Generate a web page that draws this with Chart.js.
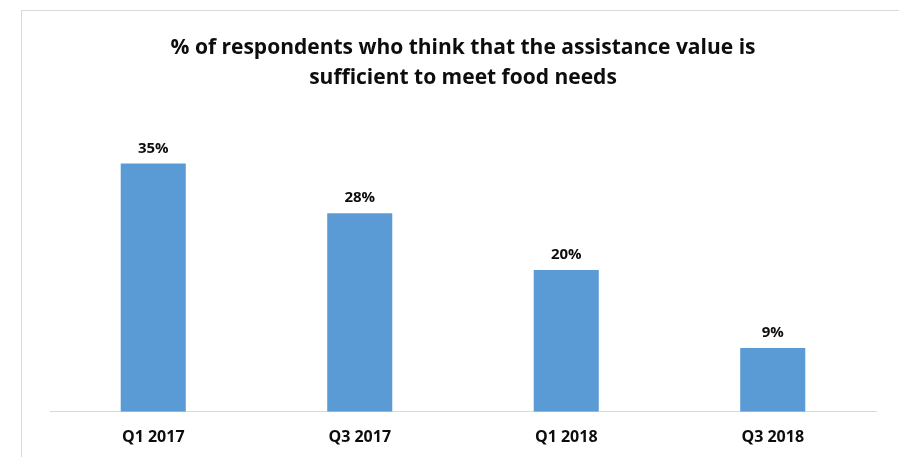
<!DOCTYPE html>
<html>
<head>
<meta charset="utf-8">
<script src="https://cdn.jsdelivr.net/npm/chart.js@4"></script>
<style>
  html, body { margin: 0; padding: 0; background: #fff; overflow: hidden; }
  #frame {
    position: absolute; left: 21px; top: 10px;
    width: 1000px; height: 1000px;
    border: 1px solid #d9d9d9; box-sizing: border-box;
  }
  #wrap { position: absolute; left: 0; top: 0; width: 899px; height: 457px; }
</style>
</head>
<body>
<div id="frame"></div>
<div id="wrap"><canvas id="chart"></canvas></div>
<script>
// Survey results per quarter
const quarters = ['Q1 2017', 'Q3 2017', 'Q1 2018', 'Q3 2018'];
const sufficientPct = [35, 28, 20, 9];
const titleLines = [
  '% of respondents who think that the assistance value is',
  'sufficient to meet food needs'
];

const FONT = "'Open Sans', 'Liberation Sans', Arial, sans-serif";

// Writes the value on top of each bar
const barValueLabels = {
  id: 'barValueLabels',
  afterDatasetsDraw(chart) {
    const ctx = chart.ctx;
    const meta = chart.getDatasetMeta(0);
    ctx.save();
    ctx.font = 'bold 15px ' + FONT;
    ctx.fillStyle = '#0d0d0d';
    ctx.textAlign = 'center';
    ctx.textBaseline = 'middle';
    meta.data.forEach((bar, i) => {
      ctx.fillText(sufficientPct[i] + '%', bar.x, bar.y - 15);
    });
    ctx.restore();
  }
};

new Chart(document.getElementById('chart'), {
  type: 'bar',
  data: {
    labels: quarters,
    datasets: [{
      data: sufficientPct,
      backgroundColor: '#5b9bd5',
      borderWidth: 0,
      categoryPercentage: 1,
      barPercentage: 0.315
    }]
  },
  options: {
    responsive: true,
    maintainAspectRatio: false,
    animation: false,
    layout: { padding: { left: 50, right: 23, top: 33, bottom: -6 } },
    plugins: {
      legend: { display: false },
      tooltip: { enabled: false },
      title: {
        display: true,
        text: titleLines,
        color: '#0d0d0d',
        font: { family: FONT, size: 21, weight: 'bold', lineHeight: 1.43 },
        padding: { top: 0, bottom: 35 }
      }
    },
    scales: {
      x: {
        grid: { display: false, drawTicks: false },
        border: { display: true, color: '#d9d9d9', width: 1 },
        ticks: {
          color: '#0d0d0d',
          padding: 16,
          font: { family: FONT, size: 16, weight: 'bold' }
        }
      },
      y: {
        display: false,
        min: 0,
        max: 40
      }
    }
  },
  plugins: [barValueLabels]
});
</script>
</body>
</html>
